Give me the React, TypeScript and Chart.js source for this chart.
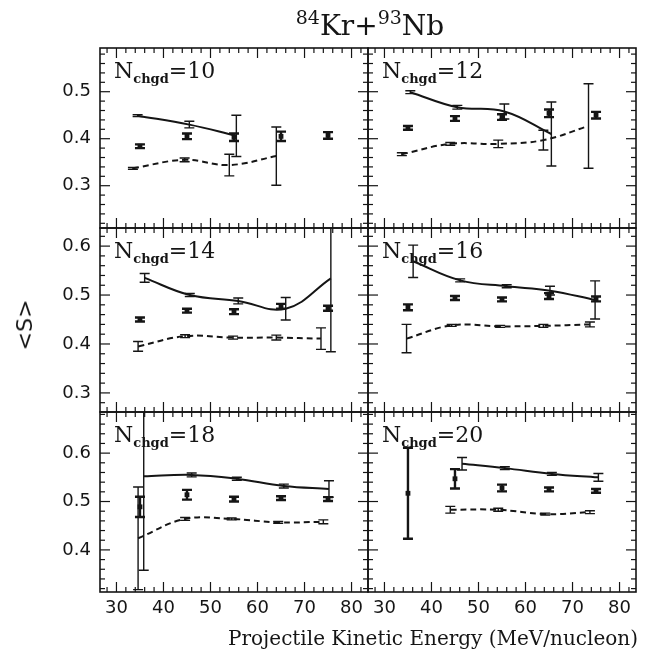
import React, { useEffect, useRef } from "react";
import { Chart, registerables } from "chart.js";
Chart.register(...registerables);

// ---- axes ----
const X_TICKS = [30, 40, 50, 60, 70, 80];
const X_MIN = 26.5;
const X_MAX = 83.5;
const Y_TICKS_ROW1 = [0.3, 0.4, 0.5];
const Y_TICKS_ROW2 = [0.3, 0.4, 0.5, 0.6];
const Y_TICKS_ROW3 = [0.4, 0.5, 0.6];
const Y_RANGE_ROW1 = [0.21, 0.593];
const Y_RANGE_ROW2 = [0.261, 0.637];
const Y_RANGE_ROW3 = [0.313, 0.685];
const N_CHGD = [10, 12, 14, 16, 18, 20];

// ---- data (experimental points) ----
const DATA_E = [35, 45, 55, 65, 75];
const data10 = [0.384, 0.405, 0.403, 0.405, 0.407];
const dataErr10 = [0.004, 0.006, 0.008, 0.01, 0.007];
const data12 = [0.423, 0.443, 0.446, 0.454, 0.45];
const dataErr12 = [0.004, 0.005, 0.006, 0.008, 0.007];
const data14 = [0.45, 0.468, 0.466, 0.477, 0.473];
const dataErr14 = [0.004, 0.004, 0.005, 0.005, 0.005];
const data16 = [0.475, 0.494, 0.491, 0.498, 0.492];
const dataErr16 = [0.006, 0.004, 0.004, 0.006, 0.005];
const data18 = [0.489, 0.514, 0.505, 0.507, 0.505];
const dataErr18 = [0.021, 0.01, 0.005, 0.004, 0.004];
const data20 = [0.517, 0.547, 0.528, 0.525, 0.522];
const dataErr20 = [0.094, 0.02, 0.007, 0.004, 0.004];

// ---- model (solid) ----
const solidE10 = [34.5, 45.5, 55.5];
const solid10 = [0.449, 0.43, 0.406];
const solidErr10 = [0.002, 0.007, 0.044];
const solidE12 = [35.5, 45.5, 55.5, 65.5];
const solid12 = [0.499, 0.467, 0.458, 0.41];
const solidErr12 = [0.003, 0.004, 0.016, 0.068];
const solidE14 = [36, 45.6, 55.9, 66, 75.6];
const solid14 = [0.535, 0.5, 0.488, 0.472, 0.534];
const solidErr14 = [0.009, 0.003, 0.006, 0.023, 0.15];
const solidE16 = [36.1, 46.1, 56, 65.2, 74.8];
const solid16 = [0.569, 0.53, 0.518, 0.509, 0.49];
const solidErr16 = [0.033, 0.003, 0.003, 0.009, 0.039];
const solidE18 = [35.8, 46, 55.6, 65.6, 75.2];
const solid18 = [0.552, 0.555, 0.547, 0.532, 0.526];
const solidErr18 = [0.194, 0.004, 0.003, 0.004, 0.017];
const solidE20 = [46.5, 55.6, 65.6, 75.5];
const solid20 = [0.578, 0.569, 0.557, 0.55];
const solidErr20 = [0.013, 0.003, 0.003, 0.008];

// ---- model (dashed) ----
const dashE10 = [33.5, 44.5, 54, 64];
const dash10 = [0.337, 0.355, 0.344, 0.363];
const dashErr10 = [0.002, 0.004, 0.023, 0.062];
const dashE12 = [33.7, 44, 54.2, 63.8, 73.4];
const dash12 = [0.367, 0.389, 0.389, 0.397, 0.427];
const dashErr12 = [0.003, 0.003, 0.008, 0.021, 0.09];
const dashE14 = [34.6, 44.6, 54.8, 64, 73.5];
const dash14 = [0.395, 0.416, 0.413, 0.413, 0.411];
const dashErr14 = [0.01, 0.003, 0.003, 0.005, 0.022];
const dashE16 = [34.7, 44.3, 54.6, 63.8, 73.7];
const dash16 = [0.411, 0.438, 0.436, 0.437, 0.44];
const dashErr16 = [0.029, 0.002, 0.002, 0.003, 0.005];
const dashE18 = [34.6, 44.6, 54.5, 64.4, 74];
const dash18 = [0.424, 0.464, 0.464, 0.457, 0.458];
const dashErr18 = [0.106, 0.003, 0.002, 0.002, 0.004];
const dashE20 = [44, 54.2, 64.2, 73.7];
const dash20 = [0.483, 0.483, 0.474, 0.478];
const dashErr20 = [0.007, 0.003, 0.002, 0.003];

const W = 645;
const H = 654;
const COL_X = [
  [100, 368],
  [368, 636],
];
const ROW_Y = [
  [48, 228],
  [228, 412],
  [412, 592],
];

const panels = [
  { n: N_CHGD[0], col: 0, row: 0, yr: Y_RANGE_ROW1, yt: Y_TICKS_ROW1, d: data10, de: dataErr10, sE: solidE10, s: solid10, sErr: solidErr10, dE: dashE10, ds: dash10, dErr: dashErr10 },
  { n: N_CHGD[1], col: 1, row: 0, yr: Y_RANGE_ROW1, yt: Y_TICKS_ROW1, d: data12, de: dataErr12, sE: solidE12, s: solid12, sErr: solidErr12, dE: dashE12, ds: dash12, dErr: dashErr12 },
  { n: N_CHGD[2], col: 0, row: 1, yr: Y_RANGE_ROW2, yt: Y_TICKS_ROW2, d: data14, de: dataErr14, sE: solidE14, s: solid14, sErr: solidErr14, dE: dashE14, ds: dash14, dErr: dashErr14 },
  { n: N_CHGD[3], col: 1, row: 1, yr: Y_RANGE_ROW2, yt: Y_TICKS_ROW2, d: data16, de: dataErr16, sE: solidE16, s: solid16, sErr: solidErr16, dE: dashE16, ds: dash16, dErr: dashErr16 },
  { n: N_CHGD[4], col: 0, row: 2, yr: Y_RANGE_ROW3, yt: Y_TICKS_ROW3, d: data18, de: dataErr18, sE: solidE18, s: solid18, sErr: solidErr18, dE: dashE18, ds: dash18, dErr: dashErr18 },
  { n: N_CHGD[5], col: 1, row: 2, yr: Y_RANGE_ROW3, yt: Y_TICKS_ROW3, d: data20, de: dataErr20, sE: solidE20, s: solid20, sErr: solidErr20, dE: dashE20, ds: dash20, dErr: dashErr20 },
];

const INK = "#151515";

const framePlugin = {
  id: "frameTicks",
  afterDatasetsDraw(chart: any) {
    const { ctx, chartArea: a, scales } = chart;
    const xs = scales.x;
    const ys = scales.y;
    ctx.save();
    ctx.strokeStyle = INK;
    ctx.lineWidth = 1.2;
    const line = (x1: number, y1: number, x2: number, y2: number) => {
      ctx.beginPath();
      ctx.moveTo(x1, y1);
      ctx.lineTo(x2, y2);
      ctx.stroke();
    };
    for (let v = Math.ceil(xs.min / 2) * 2; v <= xs.max; v += 2) {
      const px = xs.getPixelForValue(v);
      const L = v % 10 === 0 ? 10 : 5;
      line(px, a.bottom, px, a.bottom - L);
      line(px, a.top, px, a.top + L);
    }
    const i0 = Math.ceil(ys.min / 0.02 - 1e-6);
    const i1 = Math.floor(ys.max / 0.02 + 1e-6);
    for (let i = i0; i <= i1; i++) {
      const py = ys.getPixelForValue(i * 0.02);
      const L = i % 5 === 0 ? 10 : 5;
      line(a.left, py, a.left + L, py);
      line(a.right, py, a.right - L, py);
    }
    ctx.lineWidth = 1.6;
    ctx.strokeRect(a.left, a.top, a.right - a.left, a.bottom - a.top);
    ctx.restore();
  },
};

const errPlugin = {
  id: "errBars",
  afterDatasetsDraw(chart: any) {
    const { ctx, chartArea: a } = chart;
    const ys = chart.scales.y;
    ctx.save();
    ctx.beginPath();
    ctx.rect(a.left, a.top, a.right - a.left, a.bottom - a.top);
    ctx.clip();
    ctx.strokeStyle = INK;
    chart.data.datasets.forEach((ds: any, i: number) => {
      if (!ds.errs) return;
      const meta = chart.getDatasetMeta(i);
      meta.data.forEach((el: any, j: number) => {
        const p = ds.data[j];
        const e = ds.errs[j];
        const x = el.x;
        const yt = ys.getPixelForValue(p.y + e);
        const yb = ys.getPixelForValue(p.y - e);
        ctx.lineWidth = ds.errWidth;
        ctx.beginPath();
        ctx.moveTo(x, yt);
        ctx.lineTo(x, yb);
        ctx.moveTo(x - ds.capW / 2, yt);
        ctx.lineTo(x + ds.capW / 2, yt);
        ctx.moveTo(x - ds.capW / 2, yb);
        ctx.lineTo(x + ds.capW / 2, yb);
        ctx.stroke();
      });
    });
    ctx.restore();
  },
};

const pts = (xs: number[], ys: number[]) => xs.map((x, i) => ({ x, y: ys[i] }));

function Panel({ p }: { p: any }) {
  const ref = useRef<HTMLCanvasElement>(null);
  useEffect(() => {
    const [l, r] = COL_X[p.col];
    const [t, b] = ROW_Y[p.row];
    const showY = p.col === 0;
    const showX = p.row === 2;
    const chart = new Chart(ref.current as HTMLCanvasElement, {
      type: "scatter",
      data: {
        datasets: [
          {
            data: pts(p.sE, p.s),
            showLine: true,
            tension: 0.4,
            borderColor: INK,
            borderWidth: 2,
            pointRadius: 0,
            errs: p.sErr,
            capW: 10,
            errWidth: 1.4,
          } as any,
          {
            data: pts(p.dE, p.ds),
            showLine: true,
            tension: 0.4,
            borderColor: INK,
            borderWidth: 2,
            borderDash: [6, 4],
            pointRadius: 0,
            errs: p.dErr,
            capW: 10,
            errWidth: 1.4,
          } as any,
          {
            data: pts(DATA_E, p.d),
            showLine: false,
            pointStyle: "rect",
            pointRadius: 3.4,
            backgroundColor: INK,
            borderColor: INK,
            borderWidth: 0,
            errs: p.de,
            capW: 10,
            errWidth: 2.4,
          } as any,
        ],
      },
      options: {
        animation: false,
        responsive: false,
        events: [],
        layout: {
          padding: {
            left: showY ? l - 60 : l,
            right: W - r,
            top: t,
            bottom: showX ? H - b - 30 : H - b,
          },
        },
        plugins: { legend: { display: false }, tooltip: { enabled: false } },
        scales: {
          x: {
            type: "linear",
            min: X_MIN,
            max: X_MAX,
            display: showX,
            grid: { display: false, drawTicks: false },
            border: { display: false },
            afterBuildTicks: (s: any) => {
              s.ticks = X_TICKS.map((v) => ({ value: v }));
            },
            afterFit: (s: any) => {
              s.height = showX ? 30 : 0;
              s.paddingLeft = 0;
              s.paddingRight = 0;
            },
            ticks: {
              padding: 6,
              color: INK,
              maxRotation: 0,
              autoSkip: false,
              font: { family: "DejaVu Sans", size: 18 },
              callback: (v: any) => String(v),
            },
          },
          y: {
            type: "linear",
            min: p.yr[0],
            max: p.yr[1],
            display: showY,
            grid: { display: false, drawTicks: false },
            border: { display: false },
            afterBuildTicks: (s: any) => {
              s.ticks = p.yt.map((v: number) => ({ value: v }));
            },
            afterFit: (s: any) => {
              s.width = showY ? 60 : 0;
              s.paddingTop = 0;
              s.paddingBottom = 0;
            },
            ticks: {
              padding: 9,
              color: INK,
              autoSkip: false,
              font: { family: "DejaVu Sans", size: 18 },
              callback: (v: any) => Number(v).toFixed(1),
            },
          },
        },
      } as any,
      plugins: [errPlugin, framePlugin],
    });
    return () => chart.destroy();
  }, [p]);
  const [l] = COL_X[p.col];
  const [t] = ROW_Y[p.row];
  return (
    <>
      <canvas
        ref={ref}
        width={W}
        height={H}
        style={{ position: "absolute", left: 0, top: 0, width: W, height: H }}
      />
      <div
        style={{
          position: "absolute",
          left: l + 14,
          top: t + 12,
          fontFamily: "DejaVu Serif",
          fontSize: 22,
          color: INK,
          whiteSpace: "nowrap",
          lineHeight: 1,
        }}
      >
        N
        <sub style={{ fontSize: 13, fontWeight: "bold", verticalAlign: "-5px" }}>chgd</sub>
        ={p.n}
      </div>
    </>
  );
}

export default function App() {
  return (
    <div
      style={{
        position: "absolute",
        left: 0,
        top: 0,
        width: W,
        height: H,
        background: "#fff",
        overflow: "hidden",
      }}
    >
      {panels.map((p) => (
        <Panel key={p.n} p={p} />
      ))}
      <div
        style={{
          position: "absolute",
          left: 370,
          top: 24,
          transform: "translate(-50%, -50%)",
          fontFamily: "DejaVu Serif",
          fontSize: 28,
          color: INK,
          whiteSpace: "nowrap",
          lineHeight: 1,
        }}
      >
        <sup style={{ fontSize: 19 }}>84</sup>Kr+<sup style={{ fontSize: 19 }}>93</sup>Nb
      </div>
      <div
        style={{
          position: "absolute",
          left: 25,
          top: 325,
          transform: "translate(-50%, -50%) rotate(-90deg)",
          fontFamily: "DejaVu Sans",
          fontSize: 22,
          color: INK,
          whiteSpace: "nowrap",
          lineHeight: 1,
        }}
      >
        &lt;S&gt;
      </div>
      <div
        style={{
          position: "absolute",
          left: 433,
          top: 638,
          transform: "translate(-50%, -50%)",
          fontFamily: "DejaVu Serif",
          fontSize: 20,
          color: INK,
          whiteSpace: "nowrap",
          lineHeight: 1,
        }}
      >
        Projectile Kinetic Energy (MeV/nucleon)
      </div>
    </div>
  );
}
